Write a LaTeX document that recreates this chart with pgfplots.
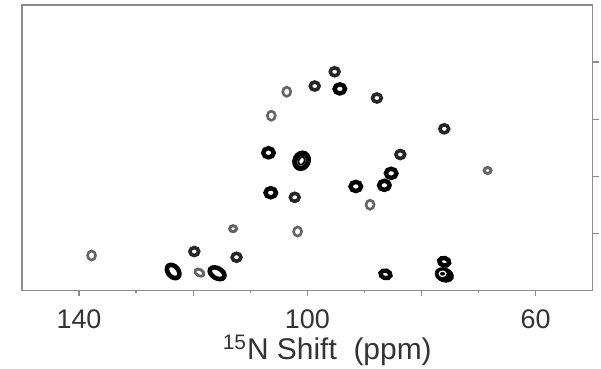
\documentclass[border=0pt]{standalone}
\usepackage{pgfplots}
\pgfplotsset{compat=1.18}
\usepackage{fontspec}
\setmainfont{Liberation Sans}
\definecolor{boxgray}{RGB}{140,140,140}
\definecolor{pkgray}{RGB}{100,100,100}
\begin{document}
\begin{tikzpicture}
\begin{axis}[
  name=ax,
  scale only axis, width=286pt, height=143pt,
  x dir=reverse, xmin=50, xmax=150, ymin=0, ymax=5,
  xtick={140,120,100,80,60}, xticklabels={140,,100,,60},
  minor xtick={130,110,90,70},
  ytick={1,2,3,4}, yticklabels={},
  xtick pos=bottom, ytick pos=right, tick align=outside,
  major tick length=3pt, minor tick length=1.5pt,
  every tick/.style={boxgray, line width=0.6pt},
  axis line style={boxgray, line width=0.8pt},
  /pgf/number format/assume math mode=true,
  xticklabel style={font=\fontsize{13.5}{15}\selectfont, text=black!80, yshift=-3pt},
  yticklabel style={font=\tiny, inner sep=0pt},
  xlabel={\textsuperscript{15}N Shift\ \ (ppm)},
  every axis x label/.style={at={(axis description cs:0.5,0)}, anchor=base, inner sep=0pt,
     yshift=-34.8pt, xshift=10pt, font=\fontsize{15}{17}\selectfont, text=black!80},
  clip=false,
]
% bold black peaks
\addplot[only marks, mark=o, mark size=2.3pt, mark options={line width=2.2pt, black, xscale=1.15}]
 coordinates {(94.3,3.53) (106.8,2.41) (85.3,2.05) (86.5,1.84) (91.5,1.82) (106.4,1.71)};
% dark medium peaks
\addplot[only marks, mark=o, mark size=2.0pt, mark options={line width=1.8pt, black!85, xscale=1.1}]
 coordinates {(95.2,3.83) (98.7,3.58) (87.8,3.37) (76.0,2.83) (83.7,2.38) (102.2,1.63) (119.8,0.68) (112.4,0.58)};
% gray peaks
\addplot[only marks, mark=o, mark size=2.0pt, mark options={line width=1.3pt, pkgray, xscale=1.0, yscale=1.15}]
 coordinates {(103.6,3.48) (106.3,3.06) (89.0,1.50) (101.7,1.03) (137.8,0.61)};
% small gray peaks
\addplot[only marks, mark=o, mark size=1.5pt, mark options={line width=1.5pt, pkgray, xscale=1.15}]
 coordinates {(68.4,2.10) (113.0,1.08)};
\addplot[only marks, mark=o, mark size=1.6pt, mark options={line width=1.4pt, pkgray, rotate=-30, xscale=1.5}]
 coordinates {(118.9,0.31)};
% big peak 9
\addplot[only marks, mark=o, mark size=3.3pt, mark options={line width=2.6pt, black, rotate=65, xscale=1.2}]
 coordinates {(101.0,2.27)};
\addplot[only marks, mark=o, mark size=1.5pt, mark options={line width=0.9pt, black, rotate=65, xscale=1.4}]
 coordinates {(101.0,2.27)};
% tilted elongated peaks
\addplot[only marks, mark=o, mark size=2.6pt, mark options={line width=2.3pt, black, rotate=-50, xscale=1.45}]
 coordinates {(123.5,0.33)};
\addplot[only marks, mark=o, mark size=2.5pt, mark options={line width=2.3pt, black, rotate=-30, xscale=1.6}]
 coordinates {(115.8,0.30)};
% small horizontal bold peaks
\addplot[only marks, mark=o, mark size=1.9pt, mark options={line width=2.2pt, black, rotate=-15, xscale=1.35}]
 coordinates {(86.3,0.28) (76.0,0.50)};
% big blob 28
\addplot[only marks, mark=*, mark size=3.5pt, mark options={black, rotate=-20, xscale=1.35}]
 coordinates {(76.0,0.27)};
\addplot[only marks, mark=o, mark size=1.3pt, mark options={line width=0.6pt, white, xscale=1.3}]
 coordinates {(76.3,0.29)};
\end{axis}
\path ([xshift=-11pt,yshift=2.5pt]ax.north west) rectangle ([xshift=3.5pt,yshift=-39pt]ax.south east);
\end{tikzpicture}
\end{document}
